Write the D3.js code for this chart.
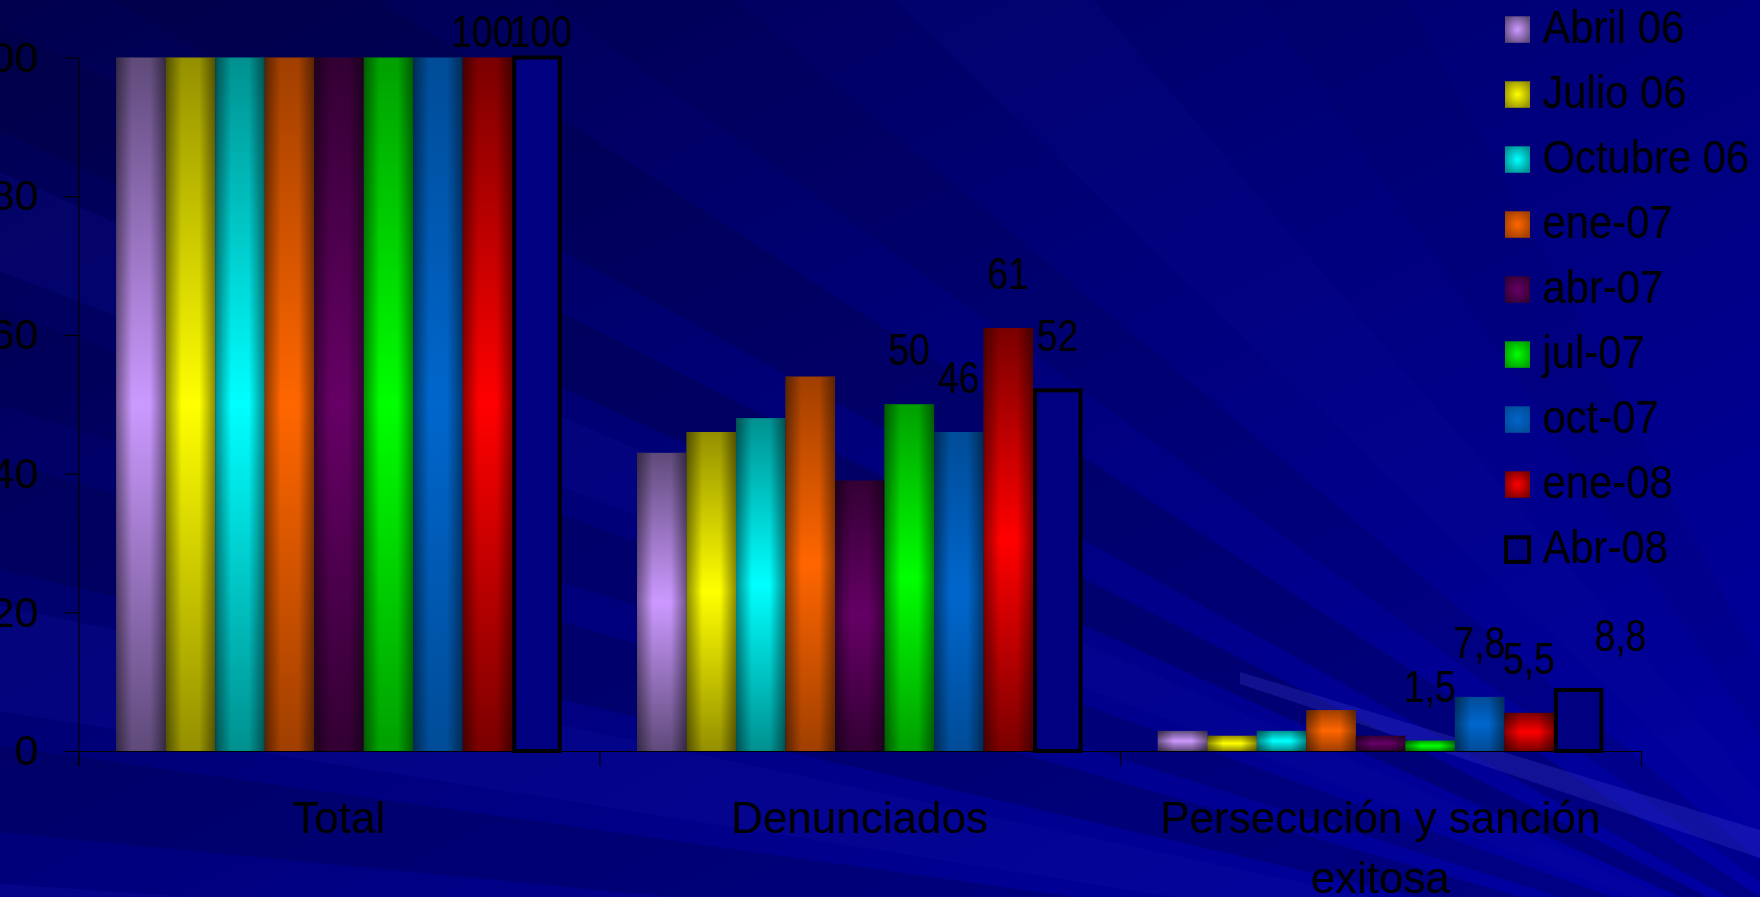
<!DOCTYPE html>
<html>
<head>
<meta charset="utf-8">
<script src="https://cdn.jsdelivr.net/npm/d3@7"></script>
<style>
  html, body { margin: 0; padding: 0; background: #000080; overflow: hidden; }
  svg { display: block; font-family: "Liberation Sans", Arial, sans-serif; }
</style>
</head>
<body>
<div id="chart"></div>
<script>
// categories on the x axis
const categories = ["Total", "Denunciados", "Persecución y sanción exitosa"];
const categoryLines = [["Total"], ["Denunciados"], ["Persecución y sanción", "exitosa"]];

// one series per survey date
const seriesNames = ["Abril 06", "Julio 06", "Octubre 06", "ene-07", "abr-07", "jul-07", "oct-07", "ene-08", "Abr-08"];
const abril06   = [100, 43, 2.9];
const julio06   = [100, 46, 2.2];
const octubre06 = [100, 48, 2.9];
const ene07     = [100, 54, 5.9];
const abr07     = [100, 39, 2.2];
const jul07     = [100, 50, 1.5];
const oct07     = [100, 46, 7.8];
const ene08     = [100, 61, 5.5];
const abr08     = [100, 52, 8.8];

// which values carry a printed label (as in the original slide)
const shownLabels = {
  "jul-07": [false, true, true],
  "oct-07": [false, true, true],
  "ene-08": [true, true, true],
  "Abr-08": [true, true, true]
};

const yTicks = [0, 20, 40, 60, 80, 100];

const allValues = [abril06, julio06, octubre06, ene07, abr07, jul07, oct07, ene08, abr08];

// bright centre / dark edge pairs for each series
const colors = [
  ["#cc99ff", "#5f4a7a"],
  ["#ffff00", "#948f00"],
  ["#00ffff", "#009090"],
  ["#ff6600", "#a03f00"],
  ["#660066", "#330033"],
  ["#00ff00", "#00a000"],
  ["#0066cc", "#004c98"],
  ["#ff0000", "#7a0000"],
  null
];

const width = 1760, height = 897;
const fontSize = 44;

const svg = d3.select("#chart").append("svg")
  .attr("width", width)
  .attr("height", height);

const defs = svg.append("defs");

// ---------- background ----------
const bgGrad = defs.append("linearGradient").attr("id", "bg")
  .attr("x1", 0).attr("y1", 0).attr("x2", 1).attr("y2", 1);
bgGrad.append("stop").attr("offset", "0%").attr("stop-color", "#00004e");
bgGrad.append("stop").attr("offset", "45%").attr("stop-color", "#000078");
bgGrad.append("stop").attr("offset", "100%").attr("stop-color", "#0000a4");

svg.append("rect").attr("width", width).attr("height", height).attr("fill", "url(#bg)");

// diagonal rays fanning out from a point past the lower right corner
const focus = [1950, 1020];
const rays = [
  [1, 4, "#1212a8", 0.3],
  [5.5, 8, "#00004a", 0.3],
  [9, 12, "#1010a0", 0.25],
  [13, 16, "#00004a", 0.35],
  [17.5, 20, "#00004a", 0.3],
  [21, 23.5, "#1010a0", 0.2],
  [24.5, 27, "#000040", 0.35],
  [29, 33, "#000040", 0.3],
  [36, 40, "#000048", 0.2],
  [44, 50, "#1010a8", 0.12],
  [56, 62, "#000060", 0.15]
];
const rayLen = 3200;
svg.append("g").selectAll("polygon").data(rays).join("polygon")
  .attr("points", d => {
    const a0 = d[0] * Math.PI / 180, a1 = d[1] * Math.PI / 180;
    return [
      focus,
      [focus[0] - rayLen * Math.cos(a0), focus[1] - rayLen * Math.sin(a0)],
      [focus[0] - rayLen * Math.cos(a1), focus[1] - rayLen * Math.sin(a1)]
    ].map(p => p.join(",")).join(" ");
  })
  .attr("fill", d => d[2])
  .attr("opacity", d => d[3]);

// thin bright streak in the lower right
svg.append("polygon")
  .attr("points", "1240,672 1760,830 1760,858 1240,684")
  .attr("fill", "#3a3ad0").attr("opacity", 0.3);

// ---------- gradients for bars ----------
colors.forEach((c, i) => {
  if (!c) return;
  const v = defs.append("linearGradient").attr("id", "v" + i)
    .attr("x1", 0).attr("y1", 0).attr("x2", 0).attr("y2", 1);
  v.append("stop").attr("offset", "0%").attr("stop-color", c[1]);
  v.append("stop").attr("offset", "50%").attr("stop-color", c[0]);
  v.append("stop").attr("offset", "100%").attr("stop-color", c[1]);

  const r = defs.append("radialGradient").attr("id", "r" + i)
    .attr("cx", "50%").attr("cy", "50%").attr("r", "60%");
  r.append("stop").attr("offset", "0%").attr("stop-color", c[0]);
  r.append("stop").attr("offset", "100%").attr("stop-color", c[1]);
});

const hs = defs.append("linearGradient").attr("id", "hshade")
  .attr("x1", 0).attr("y1", 0).attr("x2", 1).attr("y2", 0);
hs.append("stop").attr("offset", "0%").attr("stop-color", "#000").attr("stop-opacity", 0.45);
hs.append("stop").attr("offset", "32%").attr("stop-color", "#000").attr("stop-opacity", 0);
hs.append("stop").attr("offset", "68%").attr("stop-color", "#000").attr("stop-opacity", 0);
hs.append("stop").attr("offset", "100%").attr("stop-color", "#000").attr("stop-opacity", 0.45);

// ---------- scales ----------
const y = d3.scaleLinear().domain([0, 100]).range([751, 57.5]);

const x0 = d3.scaleBand()
  .domain(categories)
  .range([78.6, 1641]);

const x1 = d3.scaleBand()
  .domain(seriesNames)
  .range([0, x0.bandwidth()])
  .paddingOuter(0.76);

// ---------- bars ----------
const bars = [];
seriesNames.forEach((s, si) => {
  categories.forEach((c, ci) => {
    bars.push({ s, si, c, ci, v: allValues[si][ci] });
  });
});

const barG = svg.append("g");

barG.selectAll("rect.bar").data(bars.filter(d => colors[d.si])).join("rect")
  .attr("class", "bar")
  .attr("x", d => x0(d.c) + x1(d.s))
  .attr("y", d => y(d.v))
  .attr("width", x1.bandwidth())
  .attr("height", d => y(0) - y(d.v))
  .attr("fill", d => "url(#v" + d.si + ")");

barG.selectAll("rect.shade").data(bars.filter(d => colors[d.si])).join("rect")
  .attr("class", "shade")
  .attr("x", d => x0(d.c) + x1(d.s))
  .attr("y", d => y(d.v))
  .attr("width", x1.bandwidth())
  .attr("height", d => y(0) - y(d.v))
  .attr("fill", "url(#hshade)");

// last series: outlined navy box
barG.selectAll("rect.outline").data(bars.filter(d => !colors[d.si])).join("rect")
  .attr("class", "outline")
  .attr("x", d => x0(d.c) + x1(d.s) + 2)
  .attr("y", d => y(d.v))
  .attr("width", x1.bandwidth() - 4)
  .attr("height", d => y(0) - y(d.v))
  .attr("fill", "#000080")
  .attr("stroke", "#000")
  .attr("stroke-width", 4);

// ---------- data labels ----------
const fmt = v => d3.format("~g")(v).replace(".", ",");
const labelData = bars.filter(d => shownLabels[d.s] && shownLabels[d.s][d.ci]);
// small sideways shifts the original slide applies to a few labels
const nudge = d => {
  if (d.ci === 0 && d.s === "ene-08") return -5;
  if (d.ci === 0 && d.s === "Abr-08") return 4;
  if (d.ci === 2 && d.s === "Abr-08") return 42;
  return 0;
};

svg.append("g").selectAll("text").data(labelData).join("text")
  .attr("transform", d => "translate(" + (x0(d.c) + x1(d.s) + x1.bandwidth() / 2 + nudge(d)) + "," +
    Math.max(y(d.v) - 39, 47) + ") scale(0.85,1)")
  .attr("text-anchor", "middle")
  .attr("font-size", fontSize)
  .attr("fill", "#000")
  .text(d => fmt(d.v));

// ---------- axes ----------
const yAxisG = svg.append("g")
  .attr("transform", "translate(78.6,0)")
  .call(d3.axisLeft(y).tickValues(yTicks).tickSize(14).tickSizeOuter(0).tickPadding(26));

yAxisG.append("line")
  .attr("x1", 0).attr("x2", 0)
  .attr("y1", y(0)).attr("y2", y(0) + 15)
  .attr("stroke", "#000");

const xBounds = d3.scaleLinear().domain([0, categories.length]).range(x0.range());
svg.append("g")
  .attr("transform", "translate(0," + y(0) + ")")
  .call(d3.axisBottom(xBounds).tickValues(d3.range(categories.length + 1)).tickFormat("").tickSize(15).tickSizeOuter(0));

svg.selectAll(".domain, .tick line").attr("stroke", "#000").attr("stroke-width", 1.2);
yAxisG.selectAll("text")
  .attr("font-size", 43)
  .attr("font-family", "Liberation Sans, Arial, sans-serif")
  .attr("fill", "#000");

// category names
svg.append("g").selectAll("text").data(categories).join("text")
  .attr("x", d => x0(d) + x0.bandwidth() / 2)
  .attr("y", 833)
  .attr("text-anchor", "middle")
  .attr("font-size", fontSize)
  .attr("fill", "#000")
  .selectAll("tspan").data((d, i) => categoryLines[i]).join("tspan")
    .attr("x", function () { return d3.select(this.parentNode).attr("x"); })
    .attr("dy", (d, i) => i === 0 ? 0 : 60)
    .text(d => d);

// ---------- legend ----------
const legend = svg.append("g").attr("transform", "translate(1505,29.3)");
const item = legend.selectAll("g").data(seriesNames).join("g")
  .attr("transform", (d, i) => "translate(0," + i * 65 + ")");

item.append("rect")
  .attr("x", (d, i) => colors[i] ? 0 : 1)
  .attr("y", (d, i) => colors[i] ? -13 : -12)
  .attr("width", (d, i) => colors[i] ? 25 : 23)
  .attr("height", (d, i) => colors[i] ? 26.5 : 24.5)
  .attr("fill", (d, i) => colors[i] ? "url(#r" + i + ")" : "#000080")
  .attr("stroke", (d, i) => colors[i] ? "none" : "#000")
  .attr("stroke-width", 4);

item.append("text")
  .attr("transform", "translate(37.7,14) scale(0.89,1)")
  .attr("font-size", 47)
  .attr("fill", "#000")
  .text(d => d);
</script>
</body>
</html>
